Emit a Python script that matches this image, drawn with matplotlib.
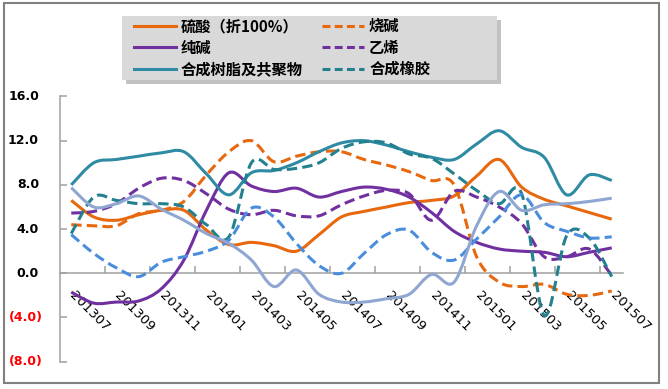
import numpy as np
import matplotlib
matplotlib.use("Agg")
import matplotlib.pyplot as plt
from matplotlib.path import Path
from matplotlib.patches import PathPatch, Rectangle
from matplotlib.lines import Line2D
from matplotlib.font_manager import FontProperties
from matplotlib.transforms import offset_copy

# ---------------- data ----------------
months = ['201307', '201308', '201309', '201310', '201311', '201312', '201401',
          '201402', '201403', '201404', '201405', '201406', '201407', '201408',
          '201409', '201410', '201411', '201412', '201501', '201502', '201503',
          '201504', '201505', '201506', '201507']

sulfuric = [6.6, 5.1, 4.8, 5.3, 5.7, 5.7, 3.9, 2.6, 2.8, 2.5, 2.0, 3.5, 5.1,
            5.6, 6.0, 6.4, 6.6, 7.0, 8.8, 10.3, 7.8, 6.7, 6.1, 5.5, 4.9]
caustic = [4.4, 4.3, 4.3, 5.4, 5.7, 6.5, 8.9, 11.0, 12.0, 10.1, 10.6, 11.0, 11.0,
           10.3, 9.8, 9.2, 8.4, 8.0, 1.5, -0.8, -1.2, -1.0, -1.9, -2.0, -1.6]
soda_ash = [-1.7, -2.7, -2.6, -2.5, -1.4, 1.2, 5.7, 9.1, 7.9, 7.4, 7.7, 6.9, 7.4,
            7.8, 7.6, 6.9, 5.5, 3.8, 2.8, 2.2, 2.0, 1.9, 1.5, 1.9, 2.3]
ethylene = [5.45, 5.6, 6.3, 7.7, 8.6, 8.4, 7.2, 5.8, 5.3, 5.7, 5.2, 5.2, 6.2,
            7.0, 7.5, 7.2, 4.8, 7.4, 6.9, 6.0, 4.5, 1.5, 1.5, 2.2, -0.2]
resin = [8.0, 10.0, 10.3, 10.6, 10.9, 11.0, 9.0, 7.1, 9.1, 9.3, 10.0, 11.0, 11.8,
         12.0, 11.6, 11.0, 10.5, 10.3, 11.7, 12.9, 11.4, 10.5, 7.1, 8.9, 8.4]
rubber = [3.6, 6.9, 6.6, 6.3, 6.3, 6.0, 4.4, 3.3, 10.0, 9.4, 9.5, 10.0, 11.3,
          11.9, 11.8, 10.8, 10.4, 9.0, 7.5, 6.3, 7.2, -3.8, 3.4, 3.2, -0.3]
series7 = [3.5, 1.8, 0.5, -0.3, 1.0, 1.5, 2.0, 3.0, 5.9, 5.1, 2.7, 0.7, 0.0,
           1.8, 3.5, 3.9, 1.9, 1.2, 3.1, 5.1, 7.1, 4.6, 3.8, 3.2, 3.3]
series8 = [7.75, 6.0, 6.3, 7.0, 5.8, 4.8, 3.6, 2.7, 1.2, -1.2, 0.3, -1.9, -2.6,
           -2.6, -2.3, -1.9, -0.1, -0.8, 4.3, 7.4, 5.7, 6.2, 6.3, 6.5, 6.8]

names = ['硫酸（折100%）', '烧碱', '纯碱', '乙烯', '合成树脂及共聚物', '合成橡胶', None, None]
values = [sulfuric, caustic, soda_ash, ethylene, resin, rubber, series7, series8]
colors = ['#E8680E', '#E8680E', '#7030A0', '#7030A0', '#2F8AA3', '#23808E',
          '#4A8DDC', '#8FA6D2']
dashed = [False, True, False, True, False, True, True, False]

y_ticks = [-8, -4, 0, 4, 8, 12, 16]
y_tick_labels = ['(8.0)', '(4.0)', '0.0', '4.0', '8.0', '12.0', '16.0']

# ---------------- figure ----------------
W, H = 668, 389
fig = plt.figure(figsize=(W / 100, H / 100), dpi=100)
fig.patch.set_facecolor('white')

ax_left, ax_right = 60, 623
ax_top, ax_bottom = 96.5, 361.7
ax = fig.add_axes([ax_left / W, 1 - ax_bottom / H, (ax_right - ax_left) / W,
                   (ax_bottom - ax_top) / H])
ax.set_facecolor('none')
ax.set_xlim(-0.5, len(months) - 0.5)
ax.set_ylim(-8, 16)

LW = 2.2
DASH = (0, (3.4, 1.7))


def smooth_path(xs, ys):
    pts = np.column_stack([xs, ys]).astype(float)
    n = len(pts)
    verts = [pts[0]]
    codes = [Path.MOVETO]
    for i in range(n - 1):
        p0 = pts[i - 1] if i > 0 else pts[i]
        p1 = pts[i]
        p2 = pts[i + 1]
        p3 = pts[i + 2] if i + 2 < n else pts[i + 1]
        c1 = p1 + (p2 - p0) / 6.0
        c2 = p2 - (p3 - p1) / 6.0
        verts += [c1, c2, p2]
        codes += [Path.CURVE4] * 3
    return Path(verts, codes)


xs = np.arange(len(months))
for vals, col, d in zip(values, colors, dashed):
    p = smooth_path(xs, vals)
    patch = PathPatch(p, fill=False, edgecolor=col, lw=LW,
                      linestyle=DASH if d else '-', capstyle='butt',
                      joinstyle='round', zorder=3)
    ax.add_patch(patch)

# axes styling
spine_col = '#A0A0A0'
for s in ['top', 'right']:
    ax.spines[s].set_visible(False)
ax.spines['left'].set_color(spine_col)
ax.spines['left'].set_linewidth(1.1)
ax.spines['bottom'].set_position(('data', 0))
ax.spines['bottom'].set_color(spine_col)
ax.spines['bottom'].set_linewidth(1.1)

ax.set_xticks(np.arange(1.5, len(months) - 0.5, 2))
ax.set_xticklabels([])
ax.tick_params(axis='x', direction='in', length=5, color=spine_col, width=1.1)
ax.set_yticks(y_ticks)
ax.set_yticklabels([])
ax.tick_params(axis='y', direction='in', length=5, color=spine_col, width=1.1)

# y labels
for v, lab in zip(y_ticks, y_tick_labels):
    neg = v < 0
    tr = offset_copy(ax.get_yaxis_transform(), fig=fig,
                     x=-17 if neg else -21, y=0, units='dots')
    ax.text(0, v, lab, transform=tr, ha='right', va='center',
            fontsize=9, fontweight='bold', family='DejaVu Sans',
            color='#FF0000' if neg else 'black')

# x labels
tr_x = offset_copy(ax.transData, fig=fig, x=-4, y=-16, units='dots')
for i in range(0, len(months), 2):
    ax.text(i, 0, months[i], transform=tr_x, rotation=-45, ha='left', va='top',
            fontsize=9.5, family='DejaVu Sans', color='black', zorder=2)

# legend background with shadow
lx0, lx1, ly0, ly1 = 122, 497, 16, 80
shadow = Rectangle(((lx0 + 4) / W, 1 - (ly1 + 4) / H), (lx1 - lx0) / W,
                   (ly1 - ly0) / H, transform=fig.transFigure,
                   facecolor='#9A9A9A', edgecolor='none', alpha=0.6, zorder=1)
bg = Rectangle((lx0 / W, 1 - ly1 / H), (lx1 - lx0) / W, (ly1 - ly0) / H,
               transform=fig.transFigure, facecolor='#D9D9D9',
               edgecolor='none', zorder=1.1)
fig.patches.extend([shadow, bg])

order = [0, 2, 4, 1, 3, 5]
handles = [Line2D([], [], color=colors[k], lw=LW,
                  linestyle=(0, (2.6, 1.4)) if dashed[k] else '-',
                  dash_capstyle='butt') for k in order]
labels = [names[k] for k in order]
fp = FontProperties(family=['Noto Sans CJK SC', 'DejaVu Sans'], weight='bold', size=11)
leg = fig.legend(handles, labels, ncol=2, frameon=False, loc='upper left',
                 bbox_to_anchor=(134 / W, 1 - 18 / H), bbox_transform=fig.transFigure,
                 prop=fp, handlelength=2.75, handletextpad=0.3, columnspacing=1.3,
                 labelspacing=0.36, borderpad=0, borderaxespad=0)
leg.set_zorder(5)

# outer border
border = Rectangle((4 / W, 1 - 383 / H), (659 - 4) / W, (383 - 3) / H,
                   transform=fig.transFigure, fill=False, edgecolor='#808080',
                   lw=1.5, zorder=10)
fig.patches.append(border)

fig.savefig('out.png', dpi=100)
